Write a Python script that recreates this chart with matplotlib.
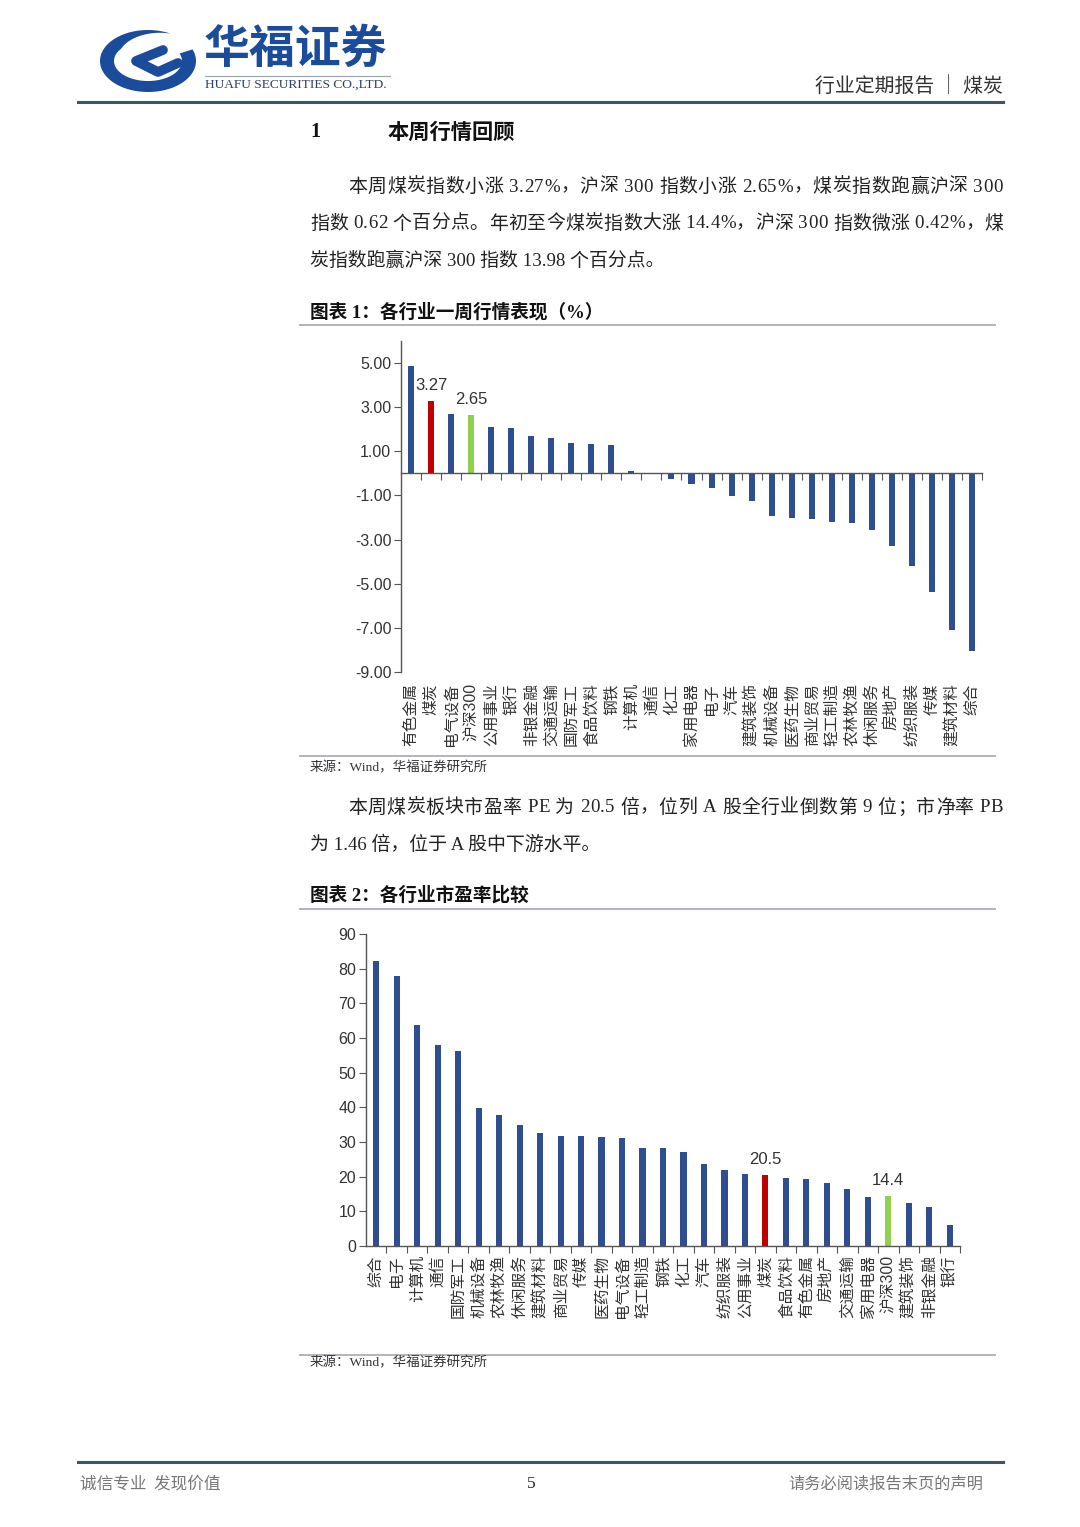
import matplotlib
matplotlib.use("Agg")
import matplotlib.pyplot as plt
import numpy as np
from matplotlib.lines import Line2D
from matplotlib.patches import Polygon

W, H = 1080, 1527

CJK = "Noto Sans CJK SC"
SERIF = ["Liberation Serif", CJK]
SANS = ["Liberation Sans", CJK]

BLUE = "#2E4E8F"
HIGHLIGHT = {"煤炭": "#C00000", "沪深300": "#92D050"}
LOGO_BLUE = "#1B4C9B"

# chart 1: weekly change by industry (%)
week_industries = ["有色金属", "煤炭", "电气设备", "沪深300", "公用事业", "银行", "非银金融",
                   "交通运输", "国防军工", "食品饮料", "钢铁", "计算机", "通信", "化工",
                   "家用电器", "电子", "汽车", "建筑装饰", "机械设备", "医药生物", "商业贸易",
                   "轻工制造", "农林牧渔", "休闲服务", "房地产", "纺织服装", "传媒", "建筑材料", "综合"]
week_change = [4.86, 3.27, 2.71, 2.65, 2.12, 2.06, 1.71,
               1.59, 1.38, 1.32, 1.27, 0.11, 0.02, -0.26,
               -0.49, -0.67, -1.03, -1.24, -1.94, -2.03, -2.05,
               -2.20, -2.24, -2.56, -3.30, -4.20, -5.36, -7.08, -8.05]
week_yticks = [-9, -7, -5, -3, -1, 1, 3, 5]

# chart 2: PE by industry
pe_industries = ["综合", "电子", "计算机", "通信", "国防军工", "机械设备", "农林牧渔", "休闲服务",
                 "建筑材料", "商业贸易", "传媒", "医药生物", "电气设备", "轻工制造", "钢铁", "化工",
                 "汽车", "纺织服装", "公用事业", "煤炭", "食品饮料", "有色金属", "房地产", "交通运输",
                 "家用电器", "沪深300", "建筑装饰", "非银金融", "银行"]
pe_values = [82.1, 77.8, 63.7, 58.0, 56.2, 39.9, 37.7, 35.0,
             32.7, 31.8, 31.8, 31.5, 31.1, 28.4, 28.2, 27.1,
             23.6, 22.0, 20.9, 20.5, 19.5, 19.4, 18.2, 16.3,
             14.2, 14.4, 12.4, 11.3, 6.0]
pe_yticks = list(range(0, 91, 10))


def fx(x):
    return x / W


def fy(y):
    return 1 - y / H


def hline(fig, x0, x1, y, color, lw):
    fig.add_artist(Line2D([fx(x0), fx(x1)], [fy(y), fy(y)],
                          transform=fig.transFigure, color=color, lw=lw))


def text(fig, x, y, s, size, **kw):
    kw.setdefault("family", SERIF)
    kw.setdefault("color", "#222222")
    kw.setdefault("va", "center")
    return fig.text(fx(x), fy(y), s, fontsize=size, **kw)


def justified(fig, x0, x1, y, s, size):
    # lay the characters out one by one so the line fills x0..x1
    renderer = fig.canvas.get_renderer()
    widths = []
    for ch in s:
        t = text(fig, 0, 0, ch, size)
        widths.append(t.get_window_extent(renderer).width)
        t.remove()
    gap = (x1 - x0 - sum(widths)) / (len(s) - 1)
    x = x0
    for ch, w in zip(s, widths):
        text(fig, x, y, ch, size)
        x += w + gap


def bar_chart(fig, px_box, cats, vals, ylim, yticks, fmt, label_fmt, pad):
    x0, y0, x1, y1 = px_box
    ax = fig.add_axes([fx(x0), fy(y1), (x1 - x0) / W, (y1 - y0) / H])
    x = np.arange(len(cats))
    colors = [HIGHLIGHT.get(c, BLUE) for c in cats]
    ax.bar(x, vals, width=0.3, color=colors, zorder=2)
    ax.set_xlim(-0.5, len(cats) - 0.5)
    ax.set_ylim(*ylim)
    ax.set_yticks(yticks)
    ax.set_yticklabels([fmt.format(t) for t in yticks], family=SANS)
    for s in ["top", "right"]:
        ax.spines[s].set_visible(False)
    ax.spines["bottom"].set_position(("data", 0))
    for s in ["left", "bottom"]:
        ax.spines[s].set_color("#555555")
        ax.spines[s].set_linewidth(1.0)
    ax.set_xticks(x + 0.5)
    ax.tick_params(axis="x", direction="out", length=5, color="#555555", labelbottom=False)
    ax.tick_params(axis="y", direction="out", length=5, color="#555555",
                   labelsize=11.5, labelcolor="#333333", pad=2)

    sec = ax.secondary_xaxis("bottom")
    sec.set_xticks(x, cats, rotation=90, family=SANS, fontsize=11.3, color="#333333")
    sec.tick_params(length=0, pad=pad)
    sec.spines["bottom"].set_visible(False)

    for i, (c, v) in enumerate(zip(cats, vals)):
        if c in HIGHLIGHT:
            ax.annotate(label_fmt.format(v), (i, v), xytext=(0, 6), textcoords="offset points",
                        ha="center", va="bottom", fontsize=12, family=SANS, color="#333333")
    return ax


def logo(fig):
    ax = fig.add_axes([fx(92), fy(97), 110 / W, 72 / H])
    ax.set_xlim(92, 202)
    ax.set_ylim(97, 25)
    ax.axis("off")
    cx, cy = 148, 61
    t = np.radians(np.linspace(62, 382, 200))
    taper = np.clip((t - np.radians(62)) / np.radians(80), 0, 1)
    orx, ory = 48, 31
    irx = orx - 14 * taper
    iry = ory - 11 * taper
    outer = np.column_stack([cx + orx * np.cos(t), cy - ory * np.sin(t)])
    inner = np.column_stack([cx + irx * np.cos(t), cy - iry * np.sin(t)])[::-1]
    ax.add_patch(Polygon(np.vstack([outer, inner]), closed=True, color=LOGO_BLUE, lw=0))
    ax.plot([163, 136, 158, 178], [50, 61, 72, 63], color=LOGO_BLUE, lw=7,
            solid_capstyle="round", solid_joinstyle="round")


fig = plt.figure(figsize=(W / 100, H / 100), dpi=100)

# header
logo(fig)
text(fig, 204, 50, "华福证券", 33, family=CJK, color=LOGO_BLUE, weight="bold")
hline(fig, 205, 390, 76, "#9aa4b0", 0.8)
text(fig, 205, 85, "HUAFU SECURITIES CO.,LTD.", 9.6, color="#2a3f6a")
text(fig, 1003, 86, "行业定期报告 │ 煤炭", 14.3, family=CJK, color="#333333", ha="right")
hline(fig, 78, 1003, 102, "#3E5468", 2.2)

# section 1
text(fig, 310, 132, "1", 14.5, weight="bold", color="#111111")
text(fig, 388, 132, "本周行情回顾", 15.3, family=CJK, weight="bold", color="#111111")

p1 = ["本周煤炭指数小涨 3.27%，沪深 300 指数小涨 2.65%，煤炭指数跑赢沪深 300",
      "指数 0.62 个百分点。年初至今煤炭指数大涨 14.4%，沪深 300 指数微涨 0.42%，煤",
      "炭指数跑赢沪深 300 指数 13.98 个百分点。"]
justified(fig, 348, 1003, 187, p1[0], 13.6)
justified(fig, 310, 1003, 224, p1[1], 13.6)
text(fig, 310, 261, p1[2], 13.6)

text(fig, 310, 312, "图表 1：各行业一周行情表现（%）", 13.4, weight="bold", color="#111111")
hline(fig, 300, 995, 325, "#b0b6bd", 1.4)

bar_chart(fig, (401, 341, 982, 672), week_industries, week_change, (-9, 6),
          week_yticks, "{:.2f}", "{:.2f}", 8)

hline(fig, 300, 995, 756, "#b0b6bd", 1.4)
text(fig, 310, 768, "来源：Wind，华福证券研究所", 9.7, color="#333333")

p2 = ["本周煤炭板块市盈率 PE 为 20.5 倍，位列 A 股全行业倒数第 9 位；市净率 PB",
      "为 1.46 倍，位于 A 股中下游水平。"]
justified(fig, 348, 1003, 808, p2[0], 13.6)
text(fig, 310, 845, p2[1], 13.6)

text(fig, 310, 895, "图表 2：各行业市盈率比较", 13.4, weight="bold", color="#111111")
hline(fig, 300, 995, 909, "#b0b6bd", 1.4)

bar_chart(fig, (366, 934, 960, 1246), pe_industries, pe_values, (0, 90),
          pe_yticks, "{:d}", "{:.1f}", 6.5)

hline(fig, 300, 995, 1355, "#b0b6bd", 1.4)
text(fig, 310, 1363, "来源：Wind，华福证券研究所", 9.7, color="#333333")

# footer
hline(fig, 78, 1003, 1462, "#3E5468", 2.2)
text(fig, 80, 1484, "诚信专业  发现价值", 12, family=CJK, color="#777777")
text(fig, 531, 1484, "5", 12.5, color="#222222", ha="center")
text(fig, 983, 1484, "请务必阅读报告末页的声明", 11.7, family=CJK, color="#777777", ha="right")

fig.savefig("out.png", dpi=100)
